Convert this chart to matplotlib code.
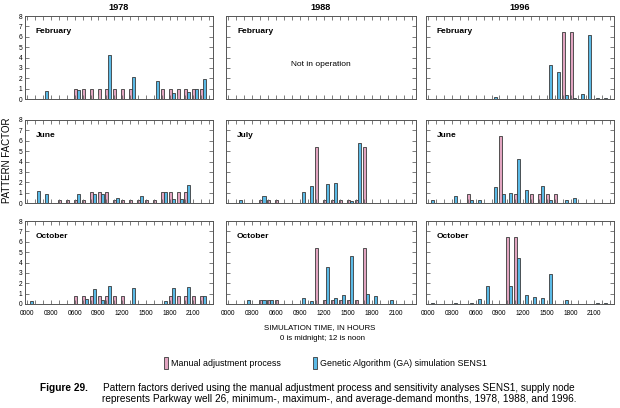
import numpy as np
import matplotlib
matplotlib.use("Agg")
import matplotlib.pyplot as plt
from matplotlib.patches import Rectangle

plt.rcParams['font.family'] = ['Liberation Sans', 'DejaVu Sans']

hours = np.arange(24)
tick_labels = ["0000", "0300", "0600", "0900", "1200", "1500", "1800", "2100"]
years = ["1978", "1988", "1996"]

# pattern factor per hour: manual adjustment (m) and GA SENS1 (g)
m78_feb = [0, 0, 0, 0, 0, 0, 1, 1, 1, 1, 1, 1, 1, 1, 0, 0, 0, 1, 1, 1, 1, 1, 1, 0]
g78_feb = [0, 0, 0.75, 0, 0, 0, 0.9, 0, 0, 0, 4.2, 0, 0, 2.1, 0, 0, 1.75, 0, 0.6, 0, 0.7, 0.95, 1.95, 0]
m78_jun = [0, 0, 0, 0, 0.25, 0.25, 0.25, 0.25, 1.05, 1.05, 1.05, 0.25, 0.25, 0.25, 0.25, 0.25, 0.25, 1.05, 1.05, 1.05, 1.05, 0, 0, 0]
g78_jun = [0, 1.2, 0.85, 0, 0, 0, 0.9, 0, 0.9, 0.85, 0, 0.45, 0, 0, 0.7, 0, 0, 1.05, 0.35, 0.4, 1.7, 0, 0, 0]
m78_oct = [0, 0, 0, 0, 0, 0, 0.8, 0.8, 0.8, 0.8, 0.8, 0.8, 0.8, 0, 0, 0, 0, 0, 0.8, 0.8, 0.8, 0.8, 0.8, 0]
g78_oct = [0.3, 0, 0, 0, 0, 0, 0, 0.45, 1.4, 0.35, 1.75, 0, 0, 1.5, 0, 0, 0, 0.3, 1.5, 0, 1.6, 0, 0.8, 0]

m88_jul = [0, 0, 0, 0, 0.33, 0.33, 0.33, 0, 0, 0, 0, 5.4, 0.33, 0.33, 0.33, 0.33, 0.33, 5.4, 0, 0, 0, 0, 0, 0]
g88_jul = [0, 0.33, 0, 0, 0.65, 0, 0, 0, 0, 1.1, 1.6, 0, 1.8, 1.9, 0, 0.2, 5.8, 0, 0, 0, 0, 0, 0, 0]
m88_oct = [0, 0, 0, 0, 0.4, 0.4, 0.4, 0, 0, 0, 0, 5.4, 0.4, 0.4, 0.4, 0.4, 0.4, 5.4, 0, 0, 0, 0, 0, 0]
g88_oct = [0, 0, 0.4, 0, 0.4, 0.4, 0, 0, 0, 0.55, 0.3, 0, 3.55, 0.6, 0.85, 4.6, 0, 1.0, 0.8, 0, 0.4, 0, 0, 0]

m96_feb = [0, 0, 0, 0, 0, 0, 0, 0, 0, 0, 0, 0, 0, 0, 0, 0, 0, 6.5, 6.5, 0, 0, 0, 0, 0]
g96_feb = [0, 0, 0, 0, 0, 0, 0, 0, 0.15, 0, 0, 0, 0, 0, 0, 3.3, 2.6, 0.35, 0.1, 0.5, 6.15, 0.05, 0.05, 0]
m96_jun = [0, 0, 0, 0, 0, 0.9, 0, 0, 0, 6.5, 0, 0.9, 0, 0.9, 0.9, 0.9, 0.9, 0, 0, 0, 0, 0, 0, 0]
g96_jun = [0.25, 0, 0, 0.65, 0, 0.25, 0.3, 0, 1.5, 0.9, 1.0, 4.2, 1.3, 0, 1.6, 0.3, 0, 0.25, 0.45, 0, 0, 0, 0, 0]
m96_oct = [0, 0, 0, 0, 0, 0, 0, 0, 0, 0, 6.5, 6.5, 0, 0, 0, 0, 0, 0, 0, 0, 0, 0, 0, 0]
g96_oct = [0.08, 0, 0, 0.1, 0, 0.05, 0.45, 1.75, 0, 0, 1.75, 4.4, 0.9, 0.65, 0.55, 2.9, 0, 0.35, 0, 0, 0, 0.05, 0.05, 0]

panels = [
    [("February", m78_feb, g78_feb), ("February", None, None), ("February", m96_feb, g96_feb)],
    [("June", m78_jun, g78_jun), ("July", m88_jul, g88_jul), ("June", m96_jun, g96_jun)],
    [("October", m78_oct, g78_oct), ("October", m88_oct, g88_oct), ("October", m96_oct, g96_oct)],
]

PINK = '#E2A5C1'
BLUE = '#5BBAE6'
EDGE = '#3a3a3a'

W, H = 620, 408
fig = plt.figure(figsize=(W / 100, H / 100), dpi=100)

def box(x, y, w, h):
    return [x / W, 1 - (y + h) / H, w / W, h / H]

col_x = [25, 226, 426]
col_w = [188, 190, 188]
row_y = [16, 120, 221]
row_h = 83

for r in range(3):
    for c in range(3):
        month, man, ga = panels[r][c]
        ax = fig.add_axes(box(col_x[c], row_y[r], col_w[c], row_h))
        if man is not None:
            man = np.array(man)
            ga = np.array(ga)
            mk = man > 0
            gk = ga > 0
            ax.bar(hours[mk] + 0.08, man[mk], width=0.38, color=PINK, edgecolor=EDGE, linewidth=0.6)
            ax.bar(hours[gk] + 0.46, ga[gk], width=0.38, color=BLUE, edgecolor=EDGE, linewidth=0.6)
        else:
            ax.text(0.5, 0.41, "Not in operation", transform=ax.transAxes,
                    ha='center', va='center', fontsize=6)
        ax.set_xlim(-0.3, 23.5)
        ax.set_ylim(0, 8)
        ax.set_xticks(hours)
        ax.set_yticks(range(9))
        ax.tick_params(direction='in', length=3, width=0.6, color='#666666',
                       top=True, right=True, labelsize=4.8, pad=2)
        ax.tick_params(axis='x', pad=4)
        if r == 2:
            ax.set_xticklabels([tick_labels[i // 3] if i % 3 == 0 else "" for i in hours])
        else:
            ax.set_xticklabels([])
        if c != 0:
            ax.set_yticklabels([])
        for s in ax.spines.values():
            s.set_color('#555555')
            s.set_linewidth(0.7)
        ax.text(0.058, 0.81, month, transform=ax.transAxes, ha='left', va='center',
                fontsize=6, fontweight='bold')
        if r == 0:
            ax.set_title(years[c], fontsize=6.6, fontweight='bold', pad=4)

fig.text(7 / W, 1 - 160 / H, "PATTERN FACTOR", rotation=90, ha='center', va='center', fontsize=7)
fig.text(320 / W, 1 - 328 / H, "SIMULATION TIME, IN HOURS", ha='center', va='center', fontsize=5.7)
fig.text(322 / W, 1 - 339 / H, "0 is midnight; 12 is noon", ha='center', va='center', fontsize=5.7)

# legend
fig.patches.append(Rectangle((164 / W, 1 - 369 / H), 4 / W, 12 / H, transform=fig.transFigure,
                             facecolor=PINK, edgecolor=EDGE, linewidth=0.6))
fig.text(171 / W, 1 - 363 / H, "Manual adjustment process", ha='left', va='center', fontsize=6.4)
fig.patches.append(Rectangle((313 / W, 1 - 369 / H), 4 / W, 12 / H, transform=fig.transFigure,
                             facecolor=BLUE, edgecolor=EDGE, linewidth=0.6))
fig.text(320 / W, 1 - 363 / H, "Genetic Algorithm (GA) simulation SENS1", ha='left', va='center', fontsize=6.4)

# caption
fig.text(40 / W, 1 - 388 / H, "Figure 29.", ha='left', va='center', fontsize=7.3, fontweight='bold')
fig.text(103 / W, 1 - 388 / H, "Pattern factors derived using the manual adjustment process and sensitivity analyses SENS1, supply node",
         ha='left', va='center', fontsize=7.2)
fig.text(102 / W, 1 - 399.5 / H, "represents Parkway well 26, minimum-, maximum-, and average-demand months, 1978, 1988, and 1996.",
         ha='left', va='center', fontsize=7.3)

fig.savefig("out.png", dpi=100)
